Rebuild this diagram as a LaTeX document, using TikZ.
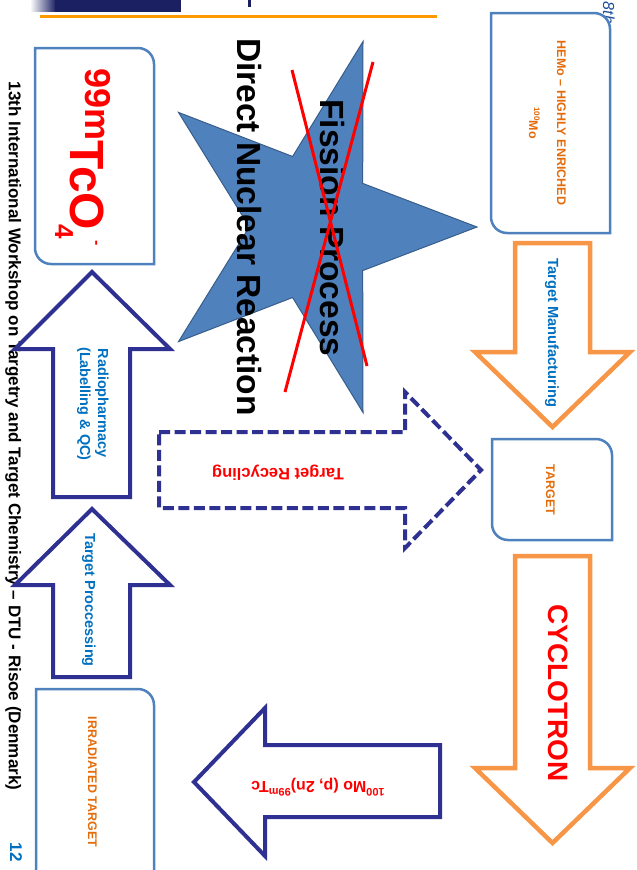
\documentclass[tikz,border=0pt]{standalone}
\usepackage{fontspec}
\setmainfont{Liberation Sans}
\definecolor{boxblue}{HTML}{4F81BD}
\definecolor{indigo}{HTML}{2E3192}
\definecolor{orarr}{HTML}{F79646}
\definecolor{ortext}{HTML}{E46C0A}
\definecolor{txtblue}{HTML}{0070C0}
\definecolor{starfill}{HTML}{4F81BD}
\definecolor{stardraw}{HTML}{385D8A}
\definecolor{navy}{HTML}{1B2063}
\definecolor{hdrorange}{HTML}{FF9900}
\definecolor{logoblue}{HTML}{1F4E99}
\newcommand\fsz[1]{\fontsize{#1}{#1}\selectfont}
\tikzset{
  boxst/.style={draw=boxblue, line width=2.5pt, fill=white},
  orarrow/.style={draw=orarr, line width=4.5pt, fill=white, line join=miter},
  inarrow/.style={draw=indigo, line width=4pt, fill=white, line join=miter},
  dasharrow/.style={draw=indigo, line width=4pt, dash pattern=on 11pt off 4.5pt, fill=white},
  starst/.style={draw=stardraw, line width=1pt, fill=starfill},
  crossst/.style={draw=red, line width=3pt},
  txt/.style={inner sep=0pt, anchor=base},
  vtxt/.style={txt, rotate=-90},
  utxt/.style={txt, rotate=180},
}
\begin{document}
\begin{tikzpicture}[x=1pt,y=-1pt]
\useasboundingbox (0,0) rectangle (637,870);
% header
\shade[left color=white, right color=navy] (30,0) rectangle (56,11.7);
\fill[navy] (55,0) rectangle (181,11.7);
\fill[navy] (247.5,0) rectangle (251,7);
\draw[hdrorange, line width=2.5pt] (40,16.7) -- (437,16.7);
\node[vtxt, text=logoblue, font=\itshape\fsz{16}] (logo) at (603,13) {8th};
% footer
\node[vtxt, font=\bfseries\fsz{17}] (footer) at (9,436) {13th International Workshop on Targetry and Target Chemistry – DTU - Risoe (Denmark)};
\node[vtxt, text=txtblue, font=\bfseries\fsz{17}] (page) at (10,852) {12};
% boxes
\draw[boxst] (491,13) -- (594,13) .. controls (602.8,13) and (610,20.2) .. (610,29) -- (610,233) -- (507,233) .. controls (498.2,233) and (491,225.8) .. (491,217) -- cycle;
\draw[boxst] (492,439) -- (596,439) .. controls (604.8,439) and (612,446.2) .. (612,455) -- (612,540) -- (508,540) .. controls (499.2,540) and (492,532.8) .. (492,524) -- cycle;
\draw[boxst] (35,48) -- (138,48) .. controls (146.8,48) and (154,55.2) .. (154,64) -- (154,264) -- (51,264) .. controls (42.2,264) and (35,256.8) .. (35,248) -- cycle;
\draw[boxst] (36,689) -- (138,689) .. controls (146.8,689) and (154,696.2) .. (154,705) -- (154,900) -- (36,900) -- cycle;
% arrows
\draw[orarrow] (515,243) -- (590,243) -- (590,352) -- (630,352) -- (552.5,427) -- (475,352) -- (515,352) -- cycle;
\draw[orarrow] (515,556) -- (590,556) -- (590,768) -- (630,768) -- (552.5,843) -- (475,768) -- (515,768) -- cycle;
\draw[inarrow] (92,272) -- (170,349) -- (130,349) -- (130,497) -- (53,497) -- (53,349) -- (15,349) -- cycle;
\draw[inarrow] (92,509) -- (170,585) -- (130,585) -- (130,677) -- (53,677) -- (53,585) -- (15,585) -- cycle;
\draw[dasharrow] (159,432) -- (405,432) -- (405,392) -- (481,470) -- (405,548) -- (405,508) -- (159,508) -- cycle;
\draw[inarrow] (194,782) -- (265,708) -- (265,745) -- (440,745) -- (440,817) -- (265,817) -- (265,856) -- cycle;
% star
\draw[starst] (477,227) -- (362.7,183.4) -- (363,41.5) -- (292.6,156.5) -- (178.5,112.4) -- (249.3,227) -- (178.5,341.6) -- (292.6,297.5) -- (363,412.5) -- (362.7,270.6) -- cycle;
% texts
\node[vtxt, text=ortext, font=\bfseries\fsz{12.5}] (hemoA) at (557,123) {HEMo – HIGHLY ENRICHED};
\node[vtxt, text=ortext, font=\bfseries\fsz{12.5}] (hemoB) at (529,123) {\raisebox{5pt}{\fsz{8}100}Mo};
\node[vtxt, text=txtblue, font=\bfseries\fsz{14.7}] (manuf) at (548,333) {Target Manufacturing};
\node[vtxt, text=ortext, font=\bfseries\fsz{12.5}] (target) at (546,490) {TARGET};
\node[vtxt, text=red, font=\bfseries\fsz{28}] (cyclo) at (548,693) {CYCLOTRON};
\node[vtxt, text=ortext, font=\bfseries\fsz{12.5}] (irrad) at (88,782) {IRRADIATED TARGET};
\node[vtxt, text=txtblue, font=\bfseries\fsz{14.5}] (radioA) at (98,403) {Radiopharmacy};
\node[vtxt, text=txtblue, font=\bfseries\fsz{14.5}] (radioB) at (80,404) {(Labelling \& QC)};
\node[vtxt, text=txtblue, font=\bfseries\fsz{14.5}] (proc) at (85,600) {Target Proccessing};
\node[vtxt, font=\bfseries\fsz{33.5}] (fission) at (320,228) {Fission Process};
\node[vtxt, font=\bfseries\fsz{33.5}] (direct) at (237,227) {Direct Nuclear Reaction};
\node[txt, anchor=base west, rotate=-90, text=red, font=\bfseries] (tco) at (70,68) {\raisebox{15pt}{\fsz{36}99m}\fsz{48}TcO\kern-6pt\raisebox{-15pt}{\fsz{26}4}\kern2pt\raisebox{22pt}{\fsz{16}-}};
\node[utxt, text=red, font=\bfseries\fsz{16.5}] (recyc) at (278,468) {Target Recycling};
\node[utxt, text=red, font=\bfseries\fsz{16}] (reac) at (318,781) {\raisebox{7pt}{\fsz{11}100}Mo (p, 2n)\raisebox{7pt}{\fsz{11}99m}Tc};
% cross
\draw[crossst] (292,70) -- (367,366);
\draw[crossst] (373,62) -- (285,392);
\end{tikzpicture}
\end{document}
